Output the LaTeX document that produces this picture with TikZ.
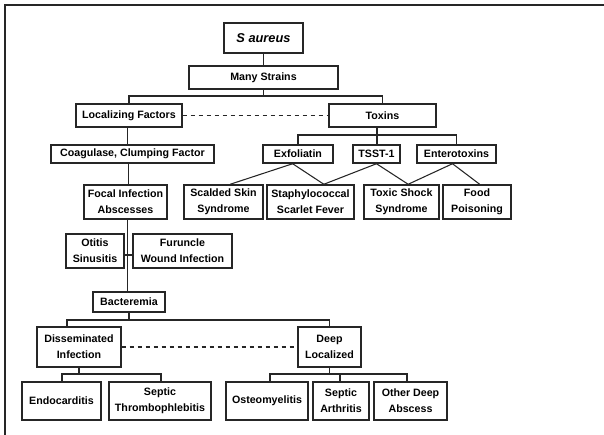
\documentclass[tikz,border=0pt]{standalone}
\usepackage{fontspec}
\setmainfont{Liberation Sans}
\begin{document}
\begin{tikzpicture}[x=0.75pt,y=-0.75pt,
  box/.style={draw=black!85,line width=1.1pt,fill=white,inner sep=0pt,align=center,
    font=\fontsize{8}{12}\selectfont\bfseries},
  conn/.style={draw=black!85,line width=0.8pt},
  dashline/.style={draw=black!85,line width=0.8pt,dashed}]
\useasboundingbox (0,0) rectangle (604,435);
\draw[line width=1.5pt,black!85] (5,435) -- (5,5) -- (604,5);
% nodes
\node[box,minimum width=59.25pt,minimum height=22.5pt,font=\fontsize{9.6}{12}\selectfont\bfseries\itshape] (sa) at (263.5,38) {S aureus};
\node[box,minimum width=111.75pt,minimum height=17.25pt] (ms) at (263.5,77.5) {Many Strains};
\node[box,minimum width=79.5pt,minimum height=17.25pt] (lf) at (129,115.5) {Localizing Factors};
\node[box,minimum width=80.25pt,minimum height=17.25pt] (tx) at (382.5,115.5) {Toxins};
\node[box,minimum width=122.25pt,minimum height=13.5pt] (cg) at (132.5,154) {Coagulase, Clumping Factor};
\node[box,minimum width=52.5pt,minimum height=13.5pt] (ex) at (298,154) {Exfoliatin};
\node[box,minimum width=35.25pt,minimum height=13.5pt] (ts) at (376.5,154) {TSST-1};
\node[box,minimum width=59.25pt,minimum height=13.5pt] (en) at (456.5,154) {Enterotoxins};
\node[box,minimum width=62.25pt,minimum height=25.5pt] (fi) at (125.5,202) {Focal Infection\\Abscesses};
\node[box,minimum width=59.25pt,minimum height=25.5pt] (ss) at (223.5,202) {Scalded Skin\\Syndrome};
\node[box,minimum width=65.25pt,minimum height=25.5pt] (sf) at (310.5,202) {Staphylococcal\\Scarlet Fever};
\node[box,minimum width=56.25pt,minimum height=25.5pt] (tss) at (401.5,202) {Toxic Shock\\Syndrome};
\node[box,minimum width=51pt,minimum height=25.5pt] (fp) at (477,202) {Food\\Poisoning};
\node[box,minimum width=43.5pt,minimum height=25.5pt] (ot) at (95,251) {Otitis\\Sinusitis};
\node[box,minimum width=74.25pt,minimum height=25.5pt] (fu) at (182.5,251) {Furuncle\\Wound Infection};
\node[box,minimum width=54pt,minimum height=15pt] (ba) at (129,302) {Bacteremia};
\node[box,minimum width=63pt,minimum height=30pt] (di) at (79,347) {Disseminated\\Infection};
\node[box,minimum width=47.25pt,minimum height=30pt] (dl) at (329.5,347) {Deep\\Localized};
\node[box,minimum width=59.25pt,minimum height=28.5pt] (ec) at (61.5,401) {Endocarditis};
\node[box,minimum width=76.5pt,minimum height=28.5pt] (st) at (160,401) {Septic\\Thrombophlebitis};
\node[box,minimum width=61.5pt,minimum height=28.5pt] (os) at (267,401) {Osteomyelitis};
\node[box,minimum width=42pt,minimum height=28.5pt] (sa2) at (341,401) {Septic\\Arthritis};
\node[box,minimum width=54.75pt,minimum height=28.5pt] (od) at (410.5,401) {Other Deep\\Abscess};
% coordinates
\coordinate (b1) at (263.5,96);
\coordinate (b2) at (377,135);
\coordinate (b3) at (129,320);
\coordinate (b4) at (79,374);
\coordinate (b5) at (329.5,374);
\coordinate (t1) at (124,255);
\coordinate (x67) at (67,0);
\coordinate (x62) at (62,0);
\coordinate (x161) at (161,0);
\coordinate (x270) at (270,0);
\coordinate (x340) at (340,0);
\coordinate (x407) at (407,0);
% connectors
\draw[conn] (sa) -- (ms);
\draw[conn] (ms.south) -- (b1);
\draw[conn] (lf.north) |- (b1) -| (tx.north);
\draw[dashline] (lf.east) -- (tx.west);
\draw[conn] ([xshift=-1pt]lf.south) -- ([xshift=-1pt]lf.south |- cg.north);
\draw[conn] (tx.south -| b2) -- (b2);
\draw[conn] (ex.north) |- (b2) -| (en.north);
\draw[conn] (b2) -- (b2 |- ts.north);
\draw[conn] ([xshift=-3pt]cg.south) -- ([xshift=-3pt]cg.south |- fi.north);
\draw[conn] ([xshift=1.5pt]fi.south) -- ([xshift=1.5pt]fi.south |- ba.north);
\draw[conn] (ot.east |- t1) -- (fu.west |- t1);
% diagonals
\draw[conn] ([xshift=-4pt]ex.south) -- ([xshift=5pt]ss.north);
\draw[conn] ([xshift=-4pt]ex.south) -- ([xshift=10pt]sf.north);
\draw[conn] (ts.south) -- ([xshift=10pt]sf.north);
\draw[conn] (ts.south) -- ([xshift=5pt]tss.north);
\draw[conn] ([xshift=-3pt]en.south) -- ([xshift=5pt]tss.north);
\draw[conn] ([xshift=-3pt]en.south) -- ([xshift=2pt]fp.north);
% lower tree
\draw[conn] (ba.south) -- (b3);
\draw[conn] (x67 |- di.north) |- (b3) -| (dl.north);
\draw[dashline] (di.east) -- (dl.west);
\draw[conn] (di.south) -- (b4);
\draw[conn] (x62 |- ec.north) |- (b4) -| (x161 |- st.north);
\draw[conn] (dl.south) -- (b5);
\draw[conn] (x270 |- os.north) |- (b5) -| (x407 |- od.north);
\draw[conn] (x340 |- sa2.north) -- (x340 |- b5);
\end{tikzpicture}
\end{document}
